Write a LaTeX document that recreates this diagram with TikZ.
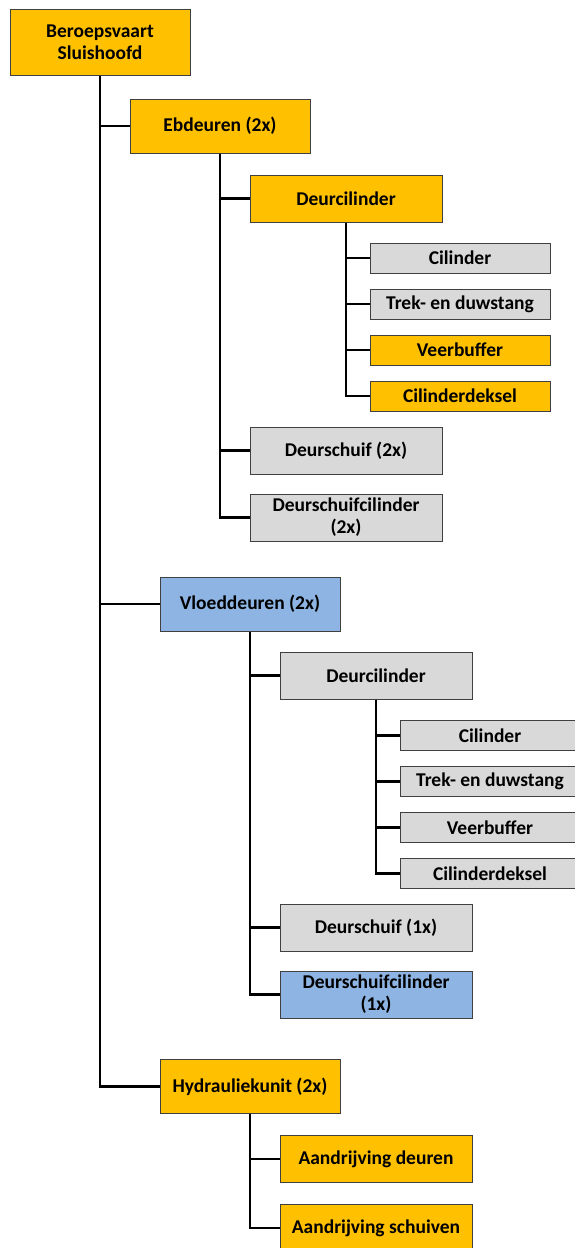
\documentclass[tikz,border=0pt]{standalone}
\usepackage{fontspec}
\setmainfont{Carlito}
\usepackage{tikz}
\usetikzlibrary{positioning}

\definecolor{amber}{HTML}{FFC000}
\definecolor{lightgrey}{HTML}{D9D9D9}
\definecolor{skyblue}{HTML}{8DB4E2}

\begin{document}
\begin{tikzpicture}[
    x=1pt, y=-1pt,
    every node/.style={font=\fontsize{19.5}{22}\selectfont\bfseries},
    box/.style={draw=black!75, line width=1pt, align=center, inner sep=2pt},
    rootbox/.style={box, minimum width=180pt, minimum height=66pt},
    branch/.style={box, minimum width=180pt, minimum height=54pt},
    sub/.style={box, minimum width=192pt, minimum height=47pt},
    leaf/.style={box, minimum width=180pt, minimum height=30pt},
    link/.style={line width=2.2pt, black},
]
\useasboundingbox (0,0) rectangle (574,1248);

% === Root ===
\node[rootbox, fill=amber] (root) at (100,42) {Beroepsvaart\\Sluishoofd};

% === Ebdeuren branch ===
\node[branch, fill=amber] (ebd) at (220,126) {Ebdeuren (2x)};
\node[sub, fill=amber] (dcil_eb) at (346,198.5) {Deurcilinder};

% parts of the door cylinder
\node[leaf, fill=lightgrey] (cil_eb) at (460,258) {Cilinder};
\node[leaf, fill=lightgrey, below=15pt of cil_eb] (trek_eb) {Trek- en duwstang};
\node[leaf, fill=amber, below=15pt of trek_eb] (veer_eb) {Veerbuffer};
\node[leaf, fill=amber, below=15pt of veer_eb] (deksel_eb) {Cilinderdeksel};

\node[sub, fill=lightgrey] (schuif_eb) at (346,450.5) {Deurschuif (2x)};
\node[sub, fill=lightgrey, below=19pt of schuif_eb] (scil_eb) {Deurschuifcilinder\\(2x)};

% === Vloeddeuren branch ===
\node[branch, fill=skyblue] (vld) at (250,604) {Vloeddeuren (2x)};
\node[sub, fill=lightgrey] (dcil_vl) at (376,675.5) {Deurcilinder};

% parts of the door cylinder
\node[leaf, fill=lightgrey] (cil_vl) at (490,735.5) {Cilinder};
\node[leaf, fill=lightgrey, below=15pt of cil_vl] (trek_vl) {Trek- en duwstang};
\node[leaf, fill=lightgrey, below=15pt of trek_vl] (veer_vl) {Veerbuffer};
\node[leaf, fill=lightgrey, below=15pt of veer_vl] (deksel_vl) {Cilinderdeksel};

\node[sub, fill=lightgrey] (schuif_vl) at (376,927.5) {Deurschuif (1x)};
\node[sub, fill=skyblue, below=19pt of schuif_vl] (scil_vl) {Deurschuifcilinder\\(1x)};

% === Hydrauliekunit branch ===
\node[branch, fill=amber] (hyd) at (250,1086.5) {Hydrauliekunit (2x)};
\node[sub, fill=amber] (adeur) at (376,1159) {Aandrijving deuren};
\node[sub, fill=amber, below=21pt of adeur] (aschuif) {Aandrijving schuiven};

% === Connectors ===
\draw[link] (root.south) |- (ebd.west);
\draw[link] (root.south) |- (vld.west);
\draw[link] (root.south) |- (hyd.west);

\draw[link] (ebd.south) |- (dcil_eb.west);
\draw[link] (ebd.south) |- (schuif_eb.west);
\draw[link] (ebd.south) |- (scil_eb.west);
\draw[link] (dcil_eb.south) |- (cil_eb.west);
\draw[link] (dcil_eb.south) |- (trek_eb.west);
\draw[link] (dcil_eb.south) |- (veer_eb.west);
\draw[link] (dcil_eb.south) |- (deksel_eb.west);

\draw[link] (vld.south) |- (dcil_vl.west);
\draw[link] (vld.south) |- (schuif_vl.west);
\draw[link] (vld.south) |- (scil_vl.west);
\draw[link] (dcil_vl.south) |- (cil_vl.west);
\draw[link] (dcil_vl.south) |- (trek_vl.west);
\draw[link] (dcil_vl.south) |- (veer_vl.west);
\draw[link] (dcil_vl.south) |- (deksel_vl.west);

\draw[link] (hyd.south) |- (adeur.west);
\draw[link] (hyd.south) |- (aschuif.west);

\end{tikzpicture}
\end{document}
